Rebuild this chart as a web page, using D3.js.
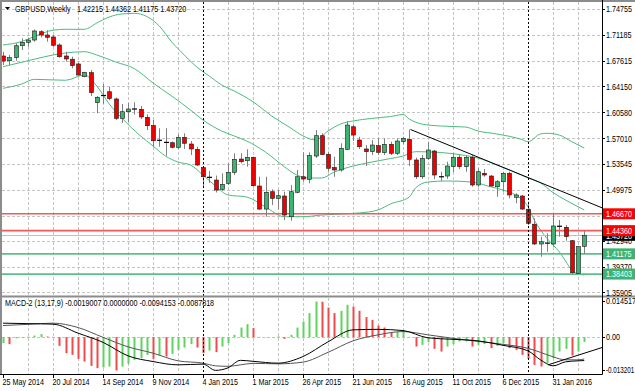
<!DOCTYPE html>
<html>
<head>
<meta charset="utf-8">
<title>GBPUSD Weekly</title>
<script src="https://cdn.jsdelivr.net/npm/d3@7"></script>
<style>
  body { margin: 0; background: #fff; }
  svg { display: block; }
  text { font-family: "Liberation Sans", Arial, sans-serif; font-size: 9px; fill: #000; }
</style>
</head>
<body>
<svg id="chart" width="635" height="391"></svg>
<script>
// weekly candles, first bar = week of 25 May 2014
const opens = [1.6831, 1.6766, 1.6808, 1.6972, 1.7019, 1.7050, 1.7164, 1.7119, 1.7092, 1.6982,
  1.6831, 1.6787, 1.6722, 1.6547, 1.6602, 1.6191, 1.6282, 1.6341, 1.6242, 1.5975,
  1.6067, 1.6100, 1.6100, 1.5990, 1.5878, 1.5672, 1.5651, 1.5642, 1.5579, 1.5716,
  1.5624, 1.5551, 1.5300, 1.5175, 1.5130, 1.5003, 1.5085, 1.5236, 1.5418, 1.5395,
  1.5442, 1.5048, 1.4732, 1.4970, 1.4879, 1.4911, 1.4627, 1.4962, 1.5175, 1.5140,
  1.5459, 1.5738, 1.5483, 1.5301, 1.5268, 1.5551, 1.5861, 1.5679, 1.5556, 1.5519,
  1.5601, 1.5505, 1.5620, 1.5497, 1.5656, 1.5688, 1.5405, 1.5175, 1.5428, 1.5528,
  1.5185, 1.5185, 1.5313, 1.5442, 1.5313, 1.5442, 1.5062, 1.5222, 1.5185, 1.5038,
  1.5107, 1.5222, 1.4893, 1.4911, 1.4729, 1.4524, 1.4253, 1.4262, 1.4253, 1.4500,
  1.4482, 1.4298, 1.3851, 1.42215];
const highs = [1.6886, 1.6845, 1.7005, 1.7074, 1.7074, 1.7195, 1.7185, 1.7185, 1.7119, 1.7005,
  1.6890, 1.6821, 1.6740, 1.6616, 1.6639, 1.6282, 1.6447, 1.6409, 1.6260, 1.6173,
  1.6186, 1.6196, 1.6145, 1.6031, 1.5953, 1.5839, 1.5839, 1.5656, 1.5757, 1.5771,
  1.5665, 1.5587, 1.5313, 1.5254, 1.5192, 1.5222, 1.5359, 1.5497, 1.5497, 1.5551,
  1.5450, 1.5175, 1.5175, 1.5003, 1.4993, 1.4970, 1.5062, 1.5268, 1.5510, 1.5510,
  1.5816, 1.5771, 1.5519, 1.5450, 1.5634, 1.5940, 1.5884, 1.5724, 1.5610, 1.5679,
  1.5702, 1.5702, 1.5656, 1.5702, 1.5724, 1.5823, 1.5436, 1.5473, 1.5656, 1.5542,
  1.5244, 1.5381, 1.5497, 1.5473, 1.5473, 1.5473, 1.5291, 1.5281, 1.5199, 1.5130,
  1.5244, 1.5244, 1.4948, 1.4925, 1.4833, 1.4605, 1.4353, 1.4399, 1.4668, 1.4582,
  1.4513, 1.4307, 1.4225, 1.44362];
const lows = [1.6707, 1.6707, 1.6766, 1.6913, 1.6958, 1.7027, 1.7087, 1.7027, 1.6958, 1.6808,
  1.6753, 1.6662, 1.6561, 1.6539, 1.6282, 1.6045, 1.6173, 1.6225, 1.5953, 1.5912,
  1.5926, 1.6028, 1.5967, 1.5816, 1.5587, 1.5587, 1.5464, 1.5565, 1.5556, 1.5556,
  1.5473, 1.5322, 1.5038, 1.5089, 1.4959, 1.4984, 1.5062, 1.5199, 1.5359, 1.5313,
  1.5038, 1.4720, 1.4627, 1.4787, 1.4729, 1.4582, 1.4572, 1.4948, 1.5107, 1.5085,
  1.5432, 1.5473, 1.5244, 1.5175, 1.5244, 1.5542, 1.5665, 1.5556, 1.5322, 1.5473,
  1.5473, 1.5473, 1.5473, 1.5473, 1.5620, 1.5322, 1.5144, 1.5147, 1.5405, 1.5140,
  1.5117, 1.5147, 1.5240, 1.5281, 1.5244, 1.5038, 1.5038, 1.5175, 1.5038, 1.4901,
  1.4970, 1.4879, 1.4811, 1.4720, 1.4513, 1.4239, 1.4079, 1.4147, 1.4216, 1.4353,
  1.4298, 1.38403, 1.3841, 1.41175];
const closes = [1.6762, 1.6808, 1.6972, 1.7019, 1.7050, 1.7174, 1.7119, 1.7087, 1.6978, 1.6821,
  1.6790, 1.6698, 1.6570, 1.6607, 1.6328, 1.6265, 1.6289, 1.6248, 1.5975, 1.6067,
  1.6104, 1.6104, 1.5995, 1.5875, 1.5669, 1.5675, 1.5646, 1.5579, 1.5716, 1.5634,
  1.5556, 1.5336, 1.5175, 1.5167, 1.4993, 1.5071, 1.5236, 1.5414, 1.5381, 1.5442,
  1.5052, 1.4732, 1.4962, 1.4879, 1.4915, 1.4650, 1.4970, 1.5175, 1.5144, 1.5464,
  1.5738, 1.5479, 1.5291, 1.5268, 1.5565, 1.5884, 1.5747, 1.5587, 1.5519, 1.5610,
  1.5510, 1.5620, 1.5497, 1.5665, 1.5702, 1.5414, 1.5175, 1.5428, 1.5542, 1.5199,
  1.5175, 1.5322, 1.5442, 1.5313, 1.5442, 1.5062, 1.5244, 1.5199, 1.5048, 1.5107,
  1.5222, 1.4925, 1.4925, 1.4732, 1.4537, 1.4253, 1.4284, 1.4265, 1.4500, 1.4496,
  1.4353, 1.3859, 1.4216, 1.43720];

// bollinger bands as [bar index, price]
const upperBand = [[0, 1.6982], [3, 1.7030], [5, 1.7098], [8, 1.7185], [10, 1.7197], [13, 1.7197], [15, 1.7283],
  [17, 1.7366], [19, 1.7407], [21, 1.7416], [23, 1.7373], [25, 1.7243], [27, 1.7023], [29, 1.6845], [31, 1.6680],
  [33, 1.6556], [35, 1.6433], [37, 1.6351], [40, 1.6204], [43, 1.6008], [46, 1.5845], [48, 1.5735], [50, 1.5679],
  [52, 1.5802], [54, 1.5898], [56, 1.5940], [59, 1.5975], [62, 1.6001], [64, 1.6028], [65, 1.5967], [67, 1.5898],
  [70, 1.5871], [74, 1.5857], [76, 1.5802], [79, 1.5762], [83, 1.5686], [84, 1.5656], [86, 1.5762], [87, 1.5771],
  [89, 1.5747], [91, 1.5656], [93, 1.5569]];
const middleBand = [[0, 1.6684], [5, 1.6787], [8, 1.6845], [10, 1.6872], [13, 1.6890], [15, 1.6845], [18, 1.6749],
  [21, 1.6659], [24, 1.6461], [27, 1.6282], [30, 1.6090], [32, 1.5953], [35, 1.5802], [37, 1.5734], [39, 1.5665],
  [42, 1.5514], [45, 1.5313], [47, 1.5199], [49, 1.5158], [51, 1.5158], [53, 1.5240], [56, 1.5322], [59, 1.5377],
  [62, 1.5425], [64, 1.5459], [66, 1.5519], [70, 1.5508], [74, 1.5466], [76, 1.5432], [79, 1.5336], [82, 1.5233],
  [84, 1.5158], [86, 1.5091], [88, 1.4958], [90, 1.4856], [93, 1.4720]];
const lowerBand = [[0, 1.6388], [3, 1.6447], [5, 1.6511], [10, 1.6498], [13, 1.6570], [15, 1.6420], [17, 1.6173],
  [19, 1.5981], [22, 1.5735], [24, 1.5597], [26, 1.5459], [28, 1.5377], [30, 1.5336], [32, 1.5199], [34, 1.5048],
  [36, 1.4925], [39, 1.4897], [42, 1.4760], [45, 1.4627], [48, 1.4627], [51, 1.4650], [54, 1.4664], [57, 1.4678],
  [60, 1.4720], [62, 1.4802], [65, 1.4897], [66, 1.5021], [68, 1.5103], [71, 1.5117], [75, 1.5103], [78, 1.5038],
  [80, 1.4993], [82, 1.4925], [84, 1.4764], [85, 1.4582], [86, 1.4445], [88, 1.4239], [89, 1.4147], [90, 1.4020],
  [91, 1.3896], [92, 1.3843], [93, 1.3828]];

// 1.46405 only gets a grid line, its label sits under the 1.46670 box
const priceTicks = [1.74755, 1.71185, 1.67615, 1.64150, 1.60580, 1.57010, 1.53545, 1.49975, 1.46405, 1.42940, 1.39370, 1.35905];
const hiddenTicks = [1.46405];
const dateLabels = ['25 May 2014', '20 Jul 2014', '14 Sep 2014', '9 Nov 2014', '4 Jan 2015', '1 Mar 2015',
  '26 Apr 2015', '21 Jun 2015', '16 Aug 2015', '11 Oct 2015', '6 Dec 2015', '31 Jan 2016'];
const yearStarts = [32, 84];

const resistanceLevels = [1.46670, 1.44360];
const supportLevels = [1.41175, 1.38403];
const trendLine = [[65.2, 1.5823], [95.84, 1.4749]];

// MACD-2 (13,17,9) sub window
const macdTicks = [0.014517, 0, -0.013201];
const macdHist = [-0.00241, -0.00281, -0.0005, -0.0003, 0.0002, 0.00064, 0.00121, 0.00024, 0.0001, -0.0035,
  -0.00643, -0.00711, -0.00872, -0.0098, -0.01153, -0.01246, -0.01221, -0.01181, -0.01342, -0.01181,
  -0.01073, -0.00912, -0.00844, -0.00711, -0.00872, -0.00739, -0.00779, -0.00671, -0.0051, -0.00418,
  -0.00281, -0.00418, -0.00643, -0.00538, -0.00603, -0.00378, -0.00241, 0.00092, 0.00386, 0.00522,
  0.00362, 0.0001, -0.0001, 0.00005, 0.0003, -0.00068, 0.00092, 0.00386, 0.00627, 0.00964,
  0.0143, 0.0142, 0.01189, 0.00964, 0.01057, 0.01298, 0.01229, 0.01057, 0.00804, 0.00695,
  0.00466, 0.00386, 0.0020, 0.0021, 0.00225, 0.0001, -0.00378, -0.00309, -0.00201, -0.0047,
  -0.00579, -0.00378, -0.00281, -0.00177, -0.0017, -0.00378, -0.00309, -0.00281, -0.00442, -0.0035,
  -0.00241, -0.00442, -0.0051, -0.00711, -0.00872, -0.01113, -0.01181, -0.01045, -0.00844, -0.00579,
  -0.0047, -0.00739, -0.00579, -0.0019007];
const macdMain = [[0, 0.00562], [4, 0.00542], [8, 0.00522], [12, 0.00161], [16, -0.00209], [20, -0.00751],
  [24, -0.0098], [28, -0.01113], [32, -0.01085], [34, -0.01334], [36, -0.01233], [38, -0.00932], [40, -0.00972],
  [44, -0.01045], [48, -0.00779], [52, -0.00189], [56, 0.00293], [60, 0.00313], [64, 0.00265], [68, -0.00028],
  [72, -0.00088], [76, -0.00149], [80, -0.00329], [84, -0.0055], [86, -0.00912], [88, -0.01153], [90, -0.00992],
  [92, -0.00952], [93, -0.0094153]];
const macdSignal = [[0, 0.00466], [4, 0.00514], [8, 0.00562], [12, 0.00386], [16, -0.00008], [20, -0.0039],
  [24, -0.00643], [28, -0.00952], [32, -0.01045], [34, -0.01153], [36, -0.01173], [38, -0.01113], [40, -0.01053],
  [44, -0.01073], [48, -0.01004], [52, -0.00611], [56, -0.00149], [60, 0.00092], [64, 0.00225], [68, 0.00092],
  [72, -0.00048], [76, -0.00169], [80, -0.00289], [84, -0.0045], [86, -0.00611], [88, -0.00791], [90, -0.00912],
  [92, -0.00912], [93, -0.0087818]];
const macdTrend = [[87.2, -0.01113], [95.84, -0.00418]];

// layout
const left = 2, right = 602;
const mainTop = 2, mainBottom = 295;
const subTop = 298, subBottom = 374;

const svg = d3.select('#chart');

const x = d3.scaleLinear().domain([0, 96]).range([3, 603]);
const y = d3.scaleLinear().domain([1.35905, 1.74755]).range([292.3, 9]);
const ym = d3.scaleLinear().domain([-0.013201, 0.014517]).range([370, 301]);

const defs = svg.append('defs');
defs.append('clipPath').attr('id', 'clipMain').append('rect')
  .attr('x', left).attr('y', mainTop).attr('width', right - left).attr('height', mainBottom - mainTop);
defs.append('clipPath').attr('id', 'clipSub').append('rect')
  .attr('x', left).attr('y', subTop).attr('width', right - left).attr('height', subBottom - subTop);

// text is narrow in the original, so squeeze it a bit
function addText(parent, px, py, str, color, sx) {
  return parent.append('text')
    .attr('transform', `translate(${px},${py}) scale(${sx || 0.8},1)`)
    .style('fill', color || '#000')
    .text(str);
}

const crisp = v => Math.round(v) + 0.5;

// grid
const grid = svg.append('g');
grid.selectAll('.hgrid')
  .data(priceTicks)
  .enter().append('line')
  .attr('x1', left).attr('x2', right)
  .attr('y1', d => crisp(y(d))).attr('y2', d => crisp(y(d)))
  .style('stroke', '#c4c4c4').style('stroke-dasharray', '3,2');

const vIdx = d3.range(4, closes.length, 4).filter(i => !yearStarts.includes(i));
[[mainTop, mainBottom], [subTop, subBottom]].forEach(([t, b]) => {
  grid.selectAll(null)
    .data(vIdx)
    .enter().append('line')
    .attr('x1', d => crisp(x(d))).attr('x2', d => crisp(x(d)))
    .attr('y1', t).attr('y2', b)
    .style('stroke', '#c4c4c4').style('stroke-dasharray', '3,2');
});
grid.append('line')
  .attr('x1', left).attr('x2', right)
  .attr('y1', crisp(ym(0))).attr('y2', crisp(ym(0)))
  .style('stroke', '#c4c4c4').style('stroke-dasharray', '3,2');

// main window
const main = svg.append('g').attr('clip-path', 'url(#clipMain)');

const bandLine = d3.line()
  .x(d => x(d[0]))
  .y(d => y(d[1]))
  .curve(d3.curveMonotoneX);

[upperBand, middleBand, lowerBand].forEach(band => {
  main.append('path')
    .attr('d', bandLine(band))
    .style('fill', 'none')
    .style('stroke', '#4cbb7f')
    .style('stroke-width', 1);
});

// horizontal levels
main.selectAll('.res')
  .data(resistanceLevels)
  .enter().append('line')
  .attr('x1', left).attr('x2', right)
  .attr('y1', d => y(d)).attr('y2', d => y(d))
  .style('stroke', '#f05a5a').style('stroke-width', 1.6);
main.selectAll('.sup')
  .data(supportLevels)
  .enter().append('line')
  .attr('x1', left).attr('x2', right)
  .attr('y1', d => y(d)).attr('y2', d => y(d))
  .style('stroke', '#5cc08a').style('stroke-width', 1.6);

const lastClose = closes[closes.length - 1];
main.append('line')
  .attr('x1', left).attr('x2', right)
  .attr('y1', crisp(y(lastClose))).attr('y2', crisp(y(lastClose)))
  .style('stroke', '#c0c0c0');

// candles
const bars = closes.map((c, i) => ({ i, o: opens[i], h: highs[i], l: lows[i], c }));

const candle = main.selectAll('.candle')
  .data(bars)
  .enter().append('g')
  .attr('class', 'candle');

candle.append('line')
  .attr('x1', d => Math.round(x(d.i)) + 0.5)
  .attr('x2', d => Math.round(x(d.i)) + 0.5)
  .attr('y1', d => y(d.h))
  .attr('y2', d => y(d.l))
  .style('stroke', '#808080');

candle.filter(d => Math.abs(y(d.o) - y(d.c)) >= 1.2)
  .append('rect')
  .attr('x', d => Math.round(x(d.i)) - 1.5)
  .attr('width', 4)
  .attr('y', d => Math.min(y(d.o), y(d.c)))
  .attr('height', d => Math.abs(y(d.o) - y(d.c)))
  .style('fill', d => d.c >= d.o ? '#3cb371' : '#ee0000')
  .style('stroke', '#1a1a1a')
  .style('stroke-width', 0.6);

// doji bars are a flat black dash
candle.filter(d => Math.abs(y(d.o) - y(d.c)) < 1.2)
  .append('line')
  .attr('x1', d => Math.round(x(d.i)) - 2)
  .attr('x2', d => Math.round(x(d.i)) + 3)
  .attr('y1', d => y(d.c))
  .attr('y2', d => y(d.c))
  .style('stroke', '#000')
  .style('stroke-width', 1.2);

// trend line
main.append('line')
  .attr('x1', x(trendLine[0][0])).attr('y1', y(trendLine[0][1]))
  .attr('x2', x(trendLine[1][0])).attr('y2', y(trendLine[1][1]))
  .style('stroke', '#000');

// MACD window
const sub = svg.append('g').attr('clip-path', 'url(#clipSub)');

sub.selectAll('.hist')
  .data(macdHist)
  .enter().append('rect')
  .attr('x', (d, i) => Math.round(x(i)) - 0.5)
  .attr('width', 2)
  .attr('y', d => Math.min(ym(d), ym(0)))
  .attr('height', d => Math.abs(ym(d) - ym(0)))
  .style('fill', (d, i) => (i === 0 || d >= macdHist[i - 1]) ? '#5fd35f' : '#f04a4a');

const macdLine = d3.line()
  .x(d => x(d[0]))
  .y(d => ym(d[1]))
  .curve(d3.curveMonotoneX);

sub.append('path').attr('d', macdLine(macdSignal))
  .style('fill', 'none').style('stroke', '#555').style('stroke-width', 1);
sub.append('path').attr('d', macdLine(macdMain))
  .style('fill', 'none').style('stroke', '#000').style('stroke-width', 1);
sub.append('line')
  .attr('x1', x(macdTrend[0][0])).attr('y1', ym(macdTrend[0][1]))
  .attr('x2', x(macdTrend[1][0])).attr('y2', ym(macdTrend[1][1]))
  .style('stroke', '#000');

// year separators
svg.selectAll('.sep')
  .data(yearStarts)
  .enter().append('line')
  .attr('x1', d => crisp(x(d))).attr('x2', d => crisp(x(d)))
  .attr('y1', mainTop).attr('y2', subBottom)
  .style('stroke', '#000').style('stroke-dasharray', '2,2');

// frame
const frame = svg.append('g');
frame.append('line').attr('x1', 0).attr('x2', 635).attr('y1', 1).attr('y2', 1)
  .style('stroke', '#8c8c8c').style('stroke-width', 2);
frame.append('line').attr('x1', 1).attr('x2', 1).attr('y1', 0).attr('y2', subBottom)
  .style('stroke', '#8c8c8c').style('stroke-width', 2);
frame.append('line').attr('x1', 0).attr('x2', 635).attr('y1', 296.5).attr('y2', 296.5)
  .style('stroke', '#8c8c8c').style('stroke-width', 2);
frame.append('line').attr('x1', right + 0.5).attr('x2', right + 0.5).attr('y1', 0).attr('y2', subBottom + 0.5)
  .style('stroke', '#000');
frame.append('line').attr('x1', 0).attr('x2', right + 0.5).attr('y1', subBottom + 0.5).attr('y2', subBottom + 0.5)
  .style('stroke', '#000');

// price axis
const axis = svg.append('g');
priceTicks.forEach(t => {
  axis.append('line')
    .attr('x1', right).attr('x2', right + 3)
    .attr('y1', crisp(y(t))).attr('y2', crisp(y(t)))
    .style('stroke', '#000');
  if (!hiddenTicks.includes(t)) addText(axis, right + 4, y(t) + 3.3, t.toFixed(5));
});

function levelBox(value, color) {
  const yy = y(value);
  axis.append('rect')
    .attr('x', right + 1).attr('y', yy - 5.5)
    .attr('width', 635 - right - 1).attr('height', 11)
    .style('fill', color);
  addText(axis, right + 4, yy + 3.3, value.toFixed(5), '#fff');
}
levelBox(lastClose, '#000');
resistanceLevels.forEach(v => levelBox(v, '#ff0000'));
supportLevels.forEach(v => levelBox(v, '#3cb371'));

// MACD axis
macdTicks.forEach(t => {
  axis.append('line')
    .attr('x1', right).attr('x2', right + 3)
    .attr('y1', crisp(ym(t))).attr('y2', crisp(ym(t)))
    .style('stroke', '#000');
  const str = t === 0 ? '0.00' : String(t);
  addText(axis, right + 4, ym(t) + 3.3, str, '#000', str.length > 8 ? 0.7 : 0.8);
});

// time axis
dateLabels.forEach((label, k) => {
  const px = Math.round(x(k * 8)) + 0.5;
  axis.append('line')
    .attr('x1', px).attr('x2', px)
    .attr('y1', subBottom).attr('y2', subBottom + 4)
    .style('stroke', '#000');
  addText(axis, px - 1, 385, label);
});

// titles
svg.append('path')
  .attr('d', 'M5,7 L10,7 L7.5,10 Z')
  .style('fill', '#000');
addText(svg, 15, 11.5, 'GBPUSD,Weekly');
addText(svg, 77, 11.5, '1.42215 1.44362 1.41175 1.43720');
addText(svg, 5, 306, 'MACD-2 (13,17,9) -0.0019007 0.0000000 -0.0094153 -0.0087818');
</script>
</body>
</html>
